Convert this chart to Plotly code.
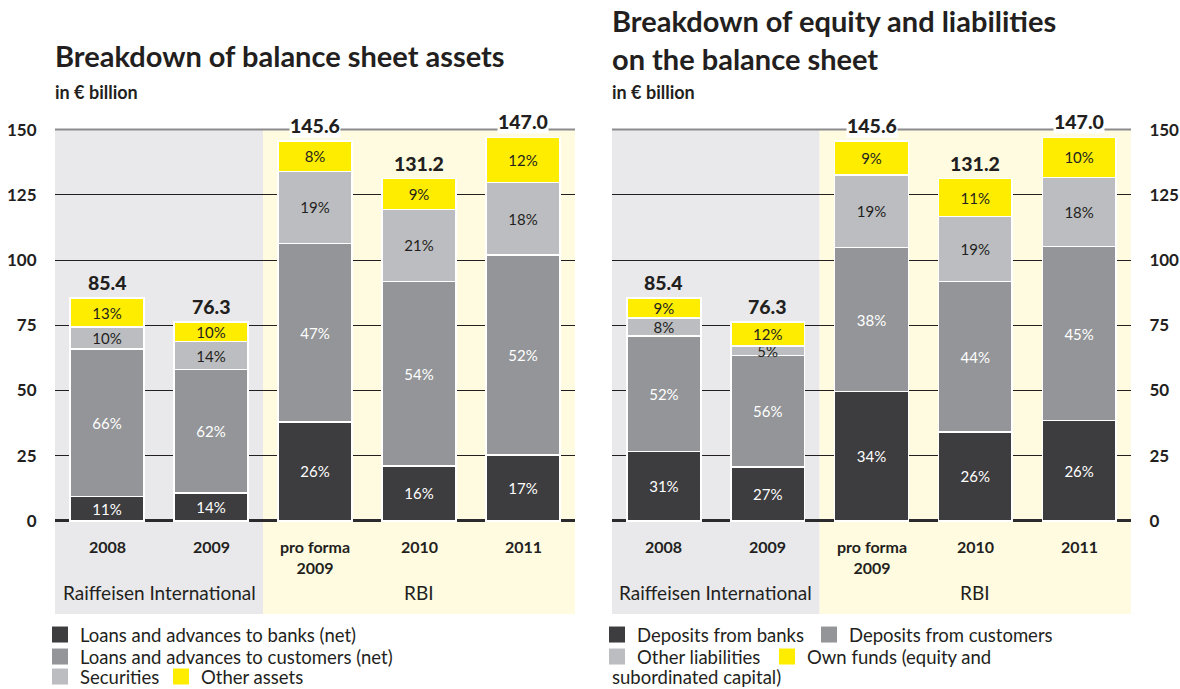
import plotly.graph_objects as go

# ---------------- data ----------------
categories = ["2008", "2009", "pro forma<br>2009", "2010", "2011"]
totals = [85.4, 76.3, 145.6, 131.2, 147.0]
group_labels = ["Raiffeisen International", "RBI"]
group_first = [0, 2]
group_last = [1, 4]
y_ticks = [0, 25, 50, 75, 100, 125, 150]

asset_names = ["Loans and advances to banks (net)",
               "Loans and advances to customers (net)",
               "Securities", "Other assets"]
asset_banks = [9.4, 10.7, 37.9, 21.0, 25.3]
asset_customers = [56.4, 47.3, 68.4, 70.8, 76.7]
asset_securities = [8.5, 10.7, 27.7, 27.6, 27.7]
asset_other = [11.1, 7.6, 11.6, 11.8, 17.3]
asset_banks_pct = ["11%", "14%", "26%", "16%", "17%"]
asset_customers_pct = ["66%", "62%", "47%", "54%", "52%"]
asset_securities_pct = ["10%", "14%", "19%", "21%", "18%"]
asset_other_pct = ["13%", "10%", "8%", "9%", "12%"]

liab_names = ["Deposits from banks", "Deposits from customers",
              "Other liabilities", "Own funds (equity and"]
liab_name_cont = "subordinated capital)"
liab_banks = [26.5, 20.6, 49.5, 34.1, 38.4]
liab_customers = [44.4, 42.7, 55.3, 57.7, 66.7]
liab_other = [6.8, 3.8, 27.7, 24.9, 26.5]
liab_own = [7.7, 9.2, 13.1, 14.5, 15.4]
liab_banks_pct = ["31%", "27%", "34%", "26%", "26%"]
liab_customers_pct = ["52%", "56%", "38%", "44%", "45%"]
liab_other_pct = ["8%", "5%", "19%", "19%", "18%"]
liab_own_pct = ["9%", "12%", "9%", "11%", "10%"]

title_left = "Breakdown of balance sheet assets"
title_right = "Breakdown of equity and liabilities<br>on the balance sheet"
unit_label = "in € billion"

# ---------------- style / layout ----------------
FONT = "Lato"
TXT = "#231f20"
W, H = 1180, 689
PT, PB = 128, 614            # plot area top / bottom in pixels
seg_colors = ["#3d3c3e", "#939598", "#bcbdc0", "#ffed00"]
seg_text_colors = ["#ffffff", "#ffffff", TXT, TXT]
bg_colors = ["#e9e9eb", "#fffbe0"]
Y_MIN, Y_MAX = -35.7, 150.6
ROWS = (635, 657, 677)       # legend row centres in pixels


def px_y(p):
    return (PB - p) / (PB - PT)


def px_x(p):
    return p / W


fig = go.Figure()


def add_panel(xa, ya, values, pcts, names, legends):
    xref = "x" if xa == "x" else "x2"
    yref = "y" if ya == "y" else "y2"
    for i, (vals, pct, name, lg) in enumerate(zip(values, pcts, names, legends)):
        fig.add_trace(go.Bar(
            x=list(range(len(categories))), y=vals, text=pct, name=name,
            legendgroup=name, showlegend=False, xaxis=xa, yaxis=ya,
            customdata=[c.replace("<br>", " ") for c in categories],
            marker=dict(color=seg_colors[i], line=dict(color="white", width=1.5)),
            textposition="inside", insidetextanchor="middle", textangle=0,
            constraintext="none",
            textfont=dict(family=FONT, size=15, color=seg_text_colors[i]),
            hovertemplate="%{customdata}: %{y} (%{text})<extra>" + name + "</extra>",
        ))
        fig.add_trace(go.Scatter(
            x=[None], y=[None], mode="markers", name=name, legendgroup=name,
            legend=lg, xaxis=xa, yaxis=ya, hoverinfo="skip",
            marker=dict(symbol="square", size=17, color=seg_colors[i],
                        line=dict(width=0)),
        ))
    # background areas for the two groups + group labels
    for g in range(len(group_labels)):
        fig.add_shape(type="rect", xref=xref, yref=yref,
                      x0=group_first[g] - 0.5, x1=group_last[g] + 0.5,
                      y0=Y_MIN, y1=y_ticks[-1], fillcolor=bg_colors[g],
                      line_width=0, layer="below")
        fig.add_annotation(xref=xref, yref=yref,
                           x=(group_first[g] + group_last[g]) / 2, y=-27.6,
                           text=group_labels[g], showarrow=False,
                           font=dict(family=FONT, size=19, color=TXT))
    # top line
    fig.add_shape(type="line", xref=xref, yref=yref, x0=-0.5, x1=4.5,
                  y0=y_ticks[-1], y1=y_ticks[-1],
                  line=dict(color="#8c8c8e", width=2), layer="between")
    # category labels
    for i, c in enumerate(categories):
        fig.add_annotation(xref=xref, yref=yref, x=i, y=0, yanchor="top",
                           yshift=-14, text=c, showarrow=False, valign="top",
                           font=dict(family=FONT, size=16, color=TXT, weight="bold"))
    # totals
    for i, t in enumerate(totals):
        fig.add_annotation(xref=xref, yref=yref, x=i, y=t, yanchor="bottom",
                           yshift=3, text=f"{t:.1f}", showarrow=False,
                           bgcolor="white" if t > 140 else "rgba(0,0,0,0)",
                           borderpad=0,
                           font=dict(family=FONT, size=19.5, color=TXT, weight=900))


add_panel("x", "y",
          [asset_banks, asset_customers, asset_securities, asset_other],
          [asset_banks_pct, asset_customers_pct, asset_securities_pct, asset_other_pct],
          asset_names, ["legend", "legend2", "legend3", "legend4"])
add_panel("x2", "y2",
          [liab_banks, liab_customers, liab_other, liab_own],
          [liab_banks_pct, liab_customers_pct, liab_other_pct, liab_own_pct],
          liab_names, ["legend5", "legend6", "legend7", "legend8"])

# titles
title_font = dict(family=FONT, size=29, color=TXT, weight="bold")
sub_font = dict(family=FONT, size=18, color=TXT, weight="bold")
fig.add_annotation(xref="paper", yref="paper", x=px_x(53), y=px_y(55),
                   xanchor="left", yanchor="middle", showarrow=False,
                   text=title_left, font=title_font)
fig.add_annotation(xref="paper", yref="paper", x=px_x(610), y=px_y(40),
                   xanchor="left", yanchor="middle", showarrow=False, align="left",
                   text=title_right, font=title_font)
for xp in (53, 610):
    fig.add_annotation(xref="paper", yref="paper", x=px_x(xp), y=px_y(92),
                       xanchor="left", yanchor="middle", showarrow=False,
                       text=unit_label, font=sub_font)
fig.add_annotation(xref="paper", yref="paper", x=px_x(610), y=px_y(ROWS[2]),
                   xanchor="left", yanchor="middle", showarrow=False,
                   text=liab_name_cont, font=dict(family=FONT, size=18.5, color=TXT))

# axes
xcommon = dict(range=[-0.5, 4.5], showticklabels=False,
               showgrid=False, zeroline=False, showline=False, fixedrange=True)
ycommon = dict(range=[Y_MIN, Y_MAX], tickvals=y_ticks,
               ticktext=[str(v) for v in y_ticks],
               tickfont=dict(family=FONT, size=17, color=TXT, weight="bold"),
               showgrid=True, gridcolor=TXT, gridwidth=1,
               zeroline=True, zerolinecolor="#2b2a2c", zerolinewidth=3,
               ticks="outside", ticklen=14, tickcolor="rgba(0,0,0,0)",
               showline=False, fixedrange=True)

leg_common = dict(font=dict(family=FONT, size=18.5, color=TXT),
                  bgcolor="rgba(0,0,0,0)", itemsizing="trace",
                  xanchor="left", yanchor="middle", tracegroupgap=0,
                  orientation="v")
# (square left edge in px, row centre in px) for each legend entry
legend_pos = {
    "legend": (55, ROWS[0]), "legend2": (55, ROWS[1]),
    "legend3": (55, ROWS[2]), "legend4": (176, ROWS[2]),
    "legend5": (612, ROWS[0]), "legend6": (824, ROWS[0]),
    "legend7": (612, ROWS[1]), "legend8": (782, ROWS[1]),
}
legends = {k: dict(x=px_x(sx - 15), y=px_y(ry), **leg_common)
           for k, (sx, ry) in legend_pos.items()}

fig.update_layout(
    width=W, height=H,
    margin=dict(l=0, r=0, t=PT, b=H - PB, autoexpand=False),
    paper_bgcolor="white", plot_bgcolor="rgba(0,0,0,0)",
    barmode="stack", bargap=0.29,
    font=dict(family=FONT, color=TXT),
    xaxis=dict(domain=[55 / W, 575 / W], anchor="y", **xcommon),
    yaxis=dict(anchor="x", side="left", **ycommon),
    xaxis2=dict(domain=[612 / W, 1131 / W], anchor="y2", **xcommon),
    yaxis2=dict(anchor="x2", side="right", **ycommon),
    hoverlabel=dict(font_family=FONT),
    **legends,
)

fig.write_html("out.html", config={"displayModeBar": False},
               post_script="document.body.style.margin='0';document.body.style.overflow='hidden';")
